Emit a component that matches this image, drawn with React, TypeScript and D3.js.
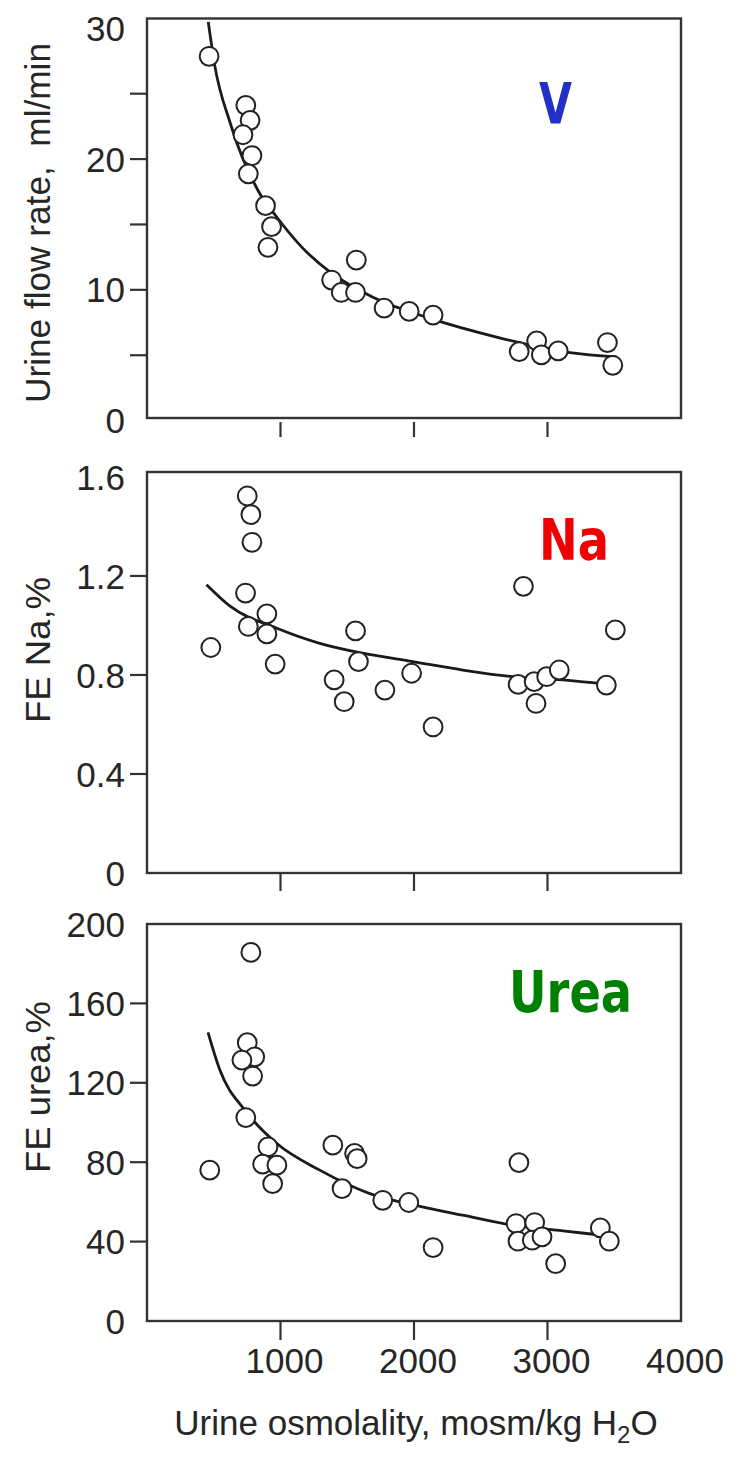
import React from 'react';
import * as d3 from 'd3';

// ---------- data ----------
const xTickValues = [1000, 2000, 3000];
const xTickLabels = [1000, 2000, 3000, 4000];

// Panel 1: urine flow rate (ml/min)
const vOsm = [465, 740, 772, 719, 786, 759, 888, 933, 906, 1568, 1383, 1455, 1562, 1776, 1964, 2143, 2788, 2919, 2954, 3080, 3449, 3489];
const vFlow = [27.86, 24.11, 22.96, 21.86, 20.27, 18.87, 16.44, 14.83, 13.25, 12.28, 10.75, 9.8, 9.8, 8.6, 8.35, 8.07, 5.28, 6.1, 5.03, 5.33, 5.97, 4.23];
const vFitOsm = [459, 505, 625, 839, 973, 1161, 1375, 1696, 2098, 2633, 3168, 3516];
const vFitFlow = [30.49, 27.3, 22.7, 17.46, 15.55, 13.25, 11.33, 9.42, 7.89, 6.35, 5.2, 4.87];
const vTickMarks = [5, 10, 15, 20, 25];
const vTickLabels = [0, 10, 20, 30];

// Panel 2: FE Na (%)
const naOsm = [751, 778, 786, 738, 898, 759, 898, 478, 960, 1562, 1584, 1402, 1477, 1782, 1982, 2143, 2820, 2780, 2900, 2914, 2994, 3088, 3441, 3508];
const naFe = [1.523, 1.448, 1.336, 1.131, 1.047, 0.996, 0.966, 0.911, 0.844, 0.978, 0.854, 0.78, 0.692, 0.739, 0.807, 0.59, 1.158, 0.762, 0.773, 0.685, 0.793, 0.82, 0.759, 0.982];
const naFitOsm = [446, 625, 973, 1294, 1616, 1990, 2365, 2740, 3115, 3436];
const naFitFe = [1.165, 1.077, 0.989, 0.928, 0.888, 0.854, 0.82, 0.793, 0.78, 0.763];
const naTickMarks = [0.4, 0.8, 1.2];
const naTickLabels = [0, 0.4, 0.8, 1.2, 1.6];

// Panel 3: FE urea (%)
const ureaOsm = [778, 751, 807, 711, 791, 740, 906, 866, 973, 941, 470, 1392, 1555, 1574, 1461, 1766, 1961, 2143, 2786, 2765, 2904, 2779, 2886, 2959, 3061, 3396, 3463];
const ureaFe = [185.7, 140.2, 133.1, 131.4, 123.4, 102.5, 87.7, 79.0, 78.5, 69.2, 76.0, 88.6, 84.4, 81.8, 66.7, 60.8, 59.7, 37.0, 79.8, 49.1, 49.6, 40.2, 40.7, 42.4, 28.9, 46.9, 40.2];
const ureaFitOsm = [457, 546, 733, 973, 1294, 1669, 2044, 2365, 2740, 3115, 3410];
const ureaFitFe = [145.4, 126.4, 106.2, 89.4, 76.0, 64.2, 57.8, 53.3, 48.2, 45.4, 43.2];
const ureaTickMarks = [40, 80, 120, 160];
const ureaTickLabels = [0, 40, 80, 120, 160, 200];

// ---------- layout ----------
const W = 748;
const H = 1458;
const LEFT = 147;
const RIGHT = 681;
const FONT = "'Liberation Sans', Arial, Helvetica, sans-serif";
const LABEL_FONT = "'DejaVu Sans', Verdana, sans-serif";
const INK = '#262626';

type PanelSpec = {
  top: number;
  bottom: number;
  domain: [number, number];
  xs: number[];
  ys: number[];
  fitX: number[];
  fitY: number[];
  marks: number[];
  labels: number[];
  fmt: (v: number) => string;
  title: string;
  titleY: number;
  titleLen: number;
  tag: string;
  tagColor: string;
  tagX: number;
  tagBaseline: number;
  tagWidth: number;
  xTickGap: number;
  xTickLen: number;
};

const panels: PanelSpec[] = [
  {
    top: 18.5, bottom: 418, domain: [0.2, 30.75],
    xs: vOsm, ys: vFlow, fitX: vFitOsm, fitY: vFitFlow,
    marks: vTickMarks, labels: vTickLabels, fmt: (v) => String(v),
    title: 'Urine flow rate,  ml/min', titleY: 223, titleLen: 360,
    tag: 'V', tagColor: '#2230c8', tagX: 539, tagBaseline: 124, tagWidth: 33,
    xTickGap: 4, xTickLen: 15,
  },
  {
    top: 472, bottom: 873, domain: [0, 1.62],
    xs: naOsm, ys: naFe, fitX: naFitOsm, fitY: naFitFe,
    marks: naTickMarks, labels: naTickLabels, fmt: (v) => (v === 0 ? '0' : v.toFixed(1)),
    title: 'FE Na,%', titleY: 650, titleLen: 146,
    tag: 'Na', tagColor: '#f00000', tagX: 539, tagBaseline: 560, tagWidth: 70,
    xTickGap: 1, xTickLen: 17,
  },
  {
    top: 924, bottom: 1321, domain: [0, 200],
    xs: ureaOsm, ys: ureaFe, fitX: ureaFitOsm, fitY: ureaFitFe,
    marks: ureaTickMarks, labels: ureaTickLabels, fmt: (v) => String(v),
    title: 'FE urea,%', titleY: 1087, titleLen: 172,
    tag: 'Urea', tagColor: '#008000', tagX: 509, tagBaseline: 1012, tagWidth: 123,
    xTickGap: 0, xTickLen: 19,
  },
];

const x = d3.scaleLinear().domain([0, 4000]).range([LEFT, RIGHT]);

function Panel({ p }: { p: PanelSpec }) {
  const y = d3.scaleLinear().domain(p.domain).range([p.bottom, p.top]);
  const pts: [number, number][] = p.fitX.map((v, i) => [v, p.fitY[i]]);
  const line = d3
    .line<[number, number]>()
    .x((d) => x(d[0]))
    .y((d) => y(d[1]))
    .curve(d3.curveMonotoneX);
  return (
    <g>
      {/* y title */}
      <text
        transform={`translate(38,${p.titleY}) rotate(-90)`}
        textAnchor="middle"
        dy="0.35em"
        fontFamily={FONT}
        fontSize={35}
        fill={INK}
        textLength={p.titleLen}
        lengthAdjust="spacingAndGlyphs"
        style={{ whiteSpace: 'pre' }}
      >
        {p.title}
      </text>
      {/* y tick marks */}
      {p.marks.map((m) => (
        <line key={'m' + m} x1={LEFT - 17} x2={LEFT} y1={y(m)} y2={y(m)} stroke="#333" strokeWidth={2.2} />
      ))}
      {/* y tick labels */}
      {p.labels.map((l) => (
        <text
          key={'l' + l}
          x={125}
          y={y(l)}
          dy="0.36em"
          textAnchor="end"
          fontFamily={FONT}
          fontSize={35}
          fill={INK}
        >
          {p.fmt(l)}
        </text>
      ))}
      {/* x tick marks */}
      {xTickValues.map((t) => (
        <line
          key={'x' + t}
          x1={x(t)}
          x2={x(t)}
          y1={p.bottom + p.xTickGap}
          y2={p.bottom + p.xTickGap + p.xTickLen}
          stroke="#333"
          strokeWidth={2.2}
        />
      ))}
      {/* fitted curve */}
      <path d={line(pts) || ''} fill="none" stroke="#1a1a1a" strokeWidth={2.8} />
      {/* points */}
      {p.xs.map((v, i) => (
        <circle key={'c' + i} cx={x(v)} cy={y(p.ys[i])} r={9.4} fill="#fff" stroke="#222" strokeWidth={2} />
      ))}
      {/* frame */}
      <rect
        x={LEFT}
        y={p.top}
        width={RIGHT - LEFT}
        height={p.bottom - p.top}
        fill="none"
        stroke="#333"
        strokeWidth={2.4}
      />
      {/* panel tag */}
      <text
        x={p.tagX}
        y={p.tagBaseline}
        fontFamily={LABEL_FONT}
        fontWeight="bold"
        fontSize={57}
        fill={p.tagColor}
        textLength={p.tagWidth}
        lengthAdjust="spacingAndGlyphs"
      >
        {p.tag}
      </text>
    </g>
  );
}

export default function App() {
  const last = panels[panels.length - 1];
  return (
    <svg
      width={W}
      height={H}
      viewBox={`0 0 ${W} ${H}`}
      style={{ position: 'absolute', left: 0, top: 0, background: '#fff', display: 'block' }}
    >
      <rect x={0} y={0} width={W} height={H} fill="#fff" />
      {panels.map((p, i) => (
        <Panel key={i} p={p} />
      ))}
      {xTickLabels.map((t) => (
        <text
          key={'xl' + t}
          x={x(t) + 4}
          y={last.bottom + 52}
          textAnchor="middle"
          fontFamily={FONT}
          fontSize={35}
          fill={INK}
        >
          {t}
        </text>
      ))}
      <text
        x={(LEFT + RIGHT) / 2 + 2}
        y={1435}
        textAnchor="middle"
        fontFamily={FONT}
        fontSize={35}
        fill={INK}
      >
        Urine osmolality, mosm/kg H
        <tspan fontSize={24} dy={8}>
          2
        </tspan>
        <tspan dy={-8}>O</tspan>
      </text>
    </svg>
  );
}
